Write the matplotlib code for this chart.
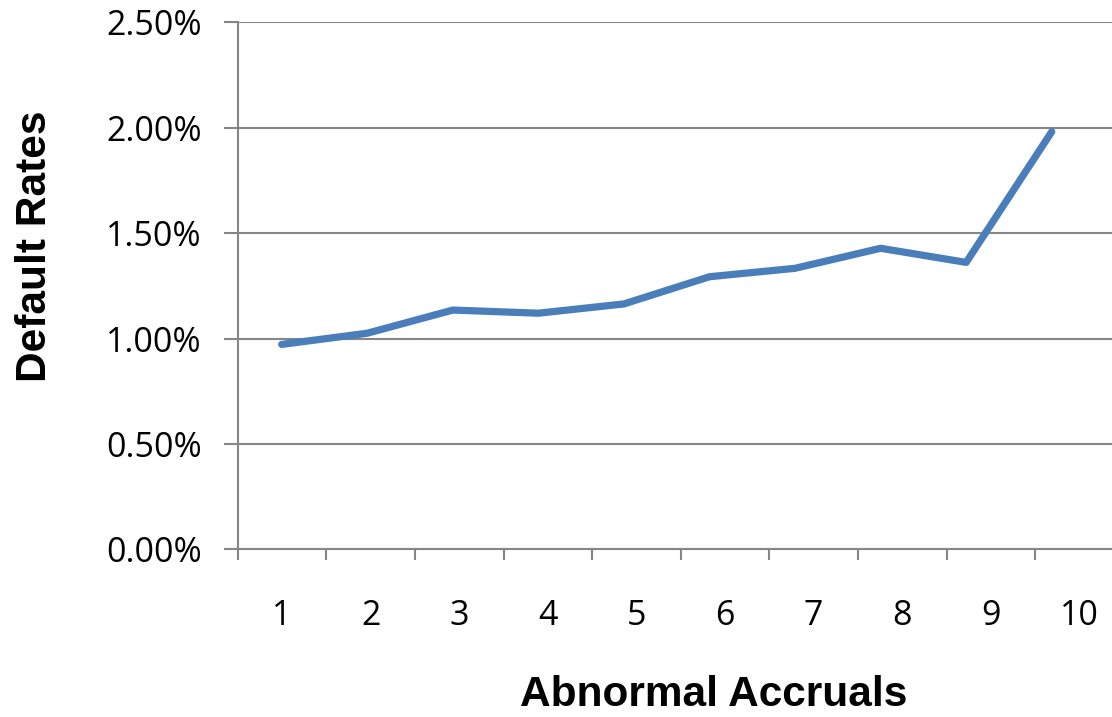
import matplotlib
matplotlib.use("Agg")
import matplotlib.pyplot as plt
import numpy as np

# ---- data ----
categories = ['1', '2', '3', '4', '5', '6', '7', '8', '9', '10']
default_rates = [0.972, 1.025, 1.135, 1.120, 1.164, 1.293, 1.333, 1.428, 1.361, 1.981]  # percent
y_ticks = [0.0, 0.5, 1.0, 1.5, 2.0, 2.5]
y_tick_labels = ['0.00%', '0.50%', '1.00%', '1.50%', '2.00%', '2.50%']
x_title = 'Abnormal Accruals'
y_title = 'Default Rates'

GRAY = '#868686'
BLUE = '#4A7EBB'

W, H = 1112, 717
fig = plt.figure(figsize=(W / 100, H / 100), dpi=100)
fig.patch.set_facecolor('white')

left, right = 237.7 / W, 1123.7 / W
bottom, top = 1 - 549.3 / H, 1 - 22.3 / H
ax = fig.add_axes([left, bottom, right - left, top - bottom])

n = len(categories)
ax.set_xlim(0.5, n + 0.5)
ax.set_ylim(y_ticks[0], y_ticks[-1])

# y axis
ax.set_yticks(y_ticks)
ax.set_yticklabels(y_tick_labels, fontfamily='Open Sans', fontsize=24.5)
ax.tick_params(axis='y', direction='out', length=10, width=1.5, color=GRAY, pad=16)
ax.yaxis.grid(True, color=GRAY, linewidth=1.5)
ax.set_axisbelow(True)

# x axis: tick marks between categories, labels at centers
ax.set_xticks(np.arange(0.5, n + 1, 1.0))
ax.set_xticklabels([])
ax.set_xticks(np.arange(1, n + 1), minor=True)
ax.set_xticklabels(categories, minor=True, fontfamily='Open Sans', fontsize=24.5)
ax.tick_params(axis='x', which='major', direction='out', length=7.7, width=1.5, color=GRAY)
ax.tick_params(axis='x', which='minor', length=0, pad=35.5)

for s in ['top', 'right']:
    ax.spines[s].set_visible(False)
for s in ['left', 'bottom']:
    ax.spines[s].set_color(GRAY)
    ax.spines[s].set_linewidth(1.5)

# line axis
axl = ax.twiny()
x_pos = np.arange(1, n + 1)
axl.set_xlim(0.486, 10.841)
axl.plot(x_pos, default_rates, color=BLUE, linewidth=5.2, solid_capstyle='round',
         solid_joinstyle='round', zorder=5)
axl.set_xticks([])
for s in axl.spines.values():
    s.set_visible(False)

fig.text(714 / W, 1 - 695 / H, x_title, ha='center', va='center',
         fontfamily='Liberation Sans', fontweight='bold', fontsize=30.5)
fig.text(35 / W, 1 - 246 / H, y_title, ha='center', va='center', rotation=90,
         fontfamily='Liberation Sans', fontweight='bold', fontsize=30.5)

fig.savefig('out.png', dpi=100, facecolor='white')
